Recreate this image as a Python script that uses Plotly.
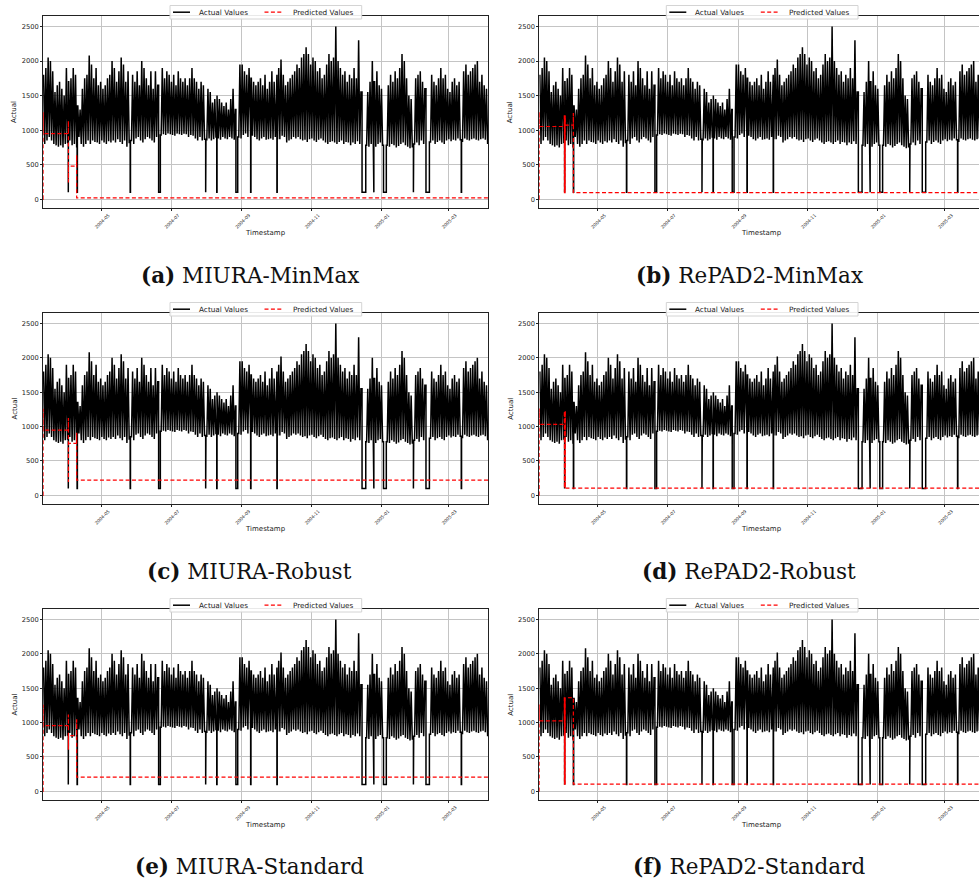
import pandas as pd
import plotly.graph_objects as go

# ---------------- data ----------------
series_start = "2004-03-10 18:00"
series_end = "2005-04-04 14:00"

# actual series: peak and trough of every 2-day block
actual_peaks = [
    1800, 1900, 2050, 2000, 1850, 1550, 1650, 1700, 1600, 1500,
    1900, 1700, 1750, 1900, 1800, 1350, 1300, 1600, 1750, 1800,
    2080, 1950, 1750, 1900, 1650, 1700, 1600, 1650, 1750, 1800,
    2000, 1900, 1700, 1850, 2050, 1950, 1700, 1850, 2070, 1800,
    1700, 1850, 1650, 2000, 1900, 1750, 1650, 1850, 1600, 1850,
    1650, 1750, 1900, 1750, 1850, 1800, 1700, 1800, 1650, 1850,
    1750, 1700, 1750, 1650, 1750, 1900, 1750, 1700, 1600, 1700,
    1650, 1500, 1600, 1550, 1400, 1450, 1500, 1450, 1400, 1350,
    1400, 1300, 1450, 1600, 1300, 1850, 1950, 1950, 1850, 1800,
    1900, 1750, 1700, 1650, 1700, 1750, 1650, 1800, 1600, 1700,
    1850, 1700, 1800, 1900, 2020, 1800, 1650, 1700, 1750, 1800,
    1850, 1950, 1900, 2050, 2100, 2200, 2100, 1950, 2050, 2000,
    1850, 1900, 1750, 1800, 1950, 2100, 2000, 2050, 2500, 2000,
    1900, 1800, 1850, 1700, 1800, 1750, 1900, 1750, 2300, 1550,
    1600, 1600, 1550, 1700, 2000, 1700, 1850, 1650, 1600, 1500,
    1550, 1650, 1800, 1700, 1850, 1750, 1900, 2100, 2000, 1750,
    1500, 1450, 1700, 1750, 1800, 1850, 1700, 1600, 1450, 1650,
    1800, 1700, 1650, 1750, 1900, 1750, 1800, 1600, 1550, 1700,
    1750, 1650, 1700, 1800, 1850, 1950, 1800, 1850, 1900, 1950,
    2000, 1700, 1800, 1650, 1600,
]
actual_troughs = [
    800, 850, 900, 850, 800, 780, 760, 780, 750, 800,
    820, 850, 780, 800, 760, 900, 800, 760, 800, 850,
    800, 850, 830, 820, 800, 850, 820, 800, 840, 820,
    850, 820, 870, 830, 800, 850, 760, 820, 850, 800,
    880, 900, 850, 820, 870, 900, 880, 850, 820, 900,
    920, 930, 940, 930, 950, 940, 930, 920, 950, 940,
    930, 950, 940, 900, 930, 920, 880, 850, 900, 850,
    870, 860, 880, 850, 870, 900, 880, 860, 900, 880,
    870, 900, 880, 860, 800, 900, 880, 930, 950, 900,
    880, 920, 900, 870, 850, 880, 900, 860, 870, 880,
    860, 900, 880, 870, 920, 900, 820, 850, 870, 900,
    880, 900, 870, 850, 860, 830, 870, 880, 850, 830,
    860, 880, 850, 820, 800, 830, 840, 820, 800, 830,
    850, 800, 830, 820, 780, 820, 800, 840, 800, 850,
    800, 780, 760, 800, 780, 760, 800, 820, 780, 760,
    780, 760, 800, 780, 750, 770, 800, 820, 780, 760,
    740, 760, 800, 820, 780, 850, 800, 820, 800, 830,
    850, 800, 830, 850, 820, 800, 850, 870, 840, 860,
    850, 880, 860, 840, 880, 860, 850, 870, 880, 860,
    850, 870, 880, 860, 800,
]

# periods where the actual series drops to its floor value
gap_starts = ["2004-04-01 22:00", "2004-04-09 15:00", "2004-05-26 03:00", "2004-06-20 01:00",
              "2004-07-31 06:00", "2004-08-09 23:00", "2004-08-26 18:00", "2004-09-08 16:00",
              "2004-10-01 16:00", "2004-12-15 06:00", "2004-12-25 08:00", "2005-01-03 01:00",
              "2005-01-29 06:00", "2005-02-09 06:00", "2005-03-12 04:00"]
gap_ends = ["2004-04-02 03:00", "2004-04-09 21:00", "2004-05-26 09:00", "2004-06-21 13:00",
            "2004-07-31 12:00", "2004-08-10 05:00", "2004-08-28 08:00", "2004-09-08 22:00",
            "2004-10-01 22:00", "2004-12-18 12:00", "2004-12-25 14:00", "2005-01-05 12:00",
            "2005-01-29 12:00", "2005-02-12 06:00", "2005-03-12 10:00"]
gap_value = 100

# predicted series (step values)
pred_times_miura = ["2004-03-10 18:00", "2004-03-10 19:00", "2004-03-10 20:00",
                    "2004-04-01 23:00", "2004-04-02 00:00", "2004-04-02 01:00",
                    "2004-04-09 05:00", "2004-04-09 06:00", series_end]
pred_vals_miura_minmax = [0, 1250, 950, 1130, 250, 480, 640, 20, 20]
pred_vals_miura_robust = [0, 1250, 949, 1117, 202, 756, 900, 222, 222]
pred_vals_miura_standard = [0, 1250, 955, 1110, 613, 811, 1038, 207, 207]

pred_times_repad = ["2004-03-10 18:00", "2004-03-10 19:00", "2004-03-10 20:00",
                    "2004-04-01 16:00", "2004-04-01 19:00", "2004-04-01 22:00",
                    "2004-04-02 01:00", "2004-04-02 04:00", "2004-04-02 07:00",
                    "2004-04-02 10:00", "2004-04-02 13:00", "2004-04-09 13:00",
                    "2004-04-09 14:00", series_end]
pred_vals_repad_minmax = [0, 1265, 1053, 1207, 97, 1207, 97, 1207, 97, 1207, 1072, 1241, 97, 97]
pred_vals_repad_robust = [0, 1252, 1031, 1223, 106, 1223, 106, 1223, 106, 1223, 106, 106, 106, 106]
pred_vals_repad_standard = [0, 1255, 1023, 1361, 106, 1361, 106, 1361, 106, 1361, 1361, 1361, 106, 106]

panel_labels = ["(a)", "(b)", "(c)", "(d)", "(e)", "(f)"]
panel_names = ["MIURA-MinMax", "RePAD2-MinMax", "MIURA-Robust", "RePAD2-Robust",
               "MIURA-Standard", "RePAD2-Standard"]
panel_pred_times = [pred_times_miura, pred_times_repad] * 3
panel_pred_vals = [pred_vals_miura_minmax, pred_vals_repad_minmax,
                   pred_vals_miura_robust, pred_vals_repad_robust,
                   pred_vals_miura_standard, pred_vals_repad_standard]
series_names = ["Actual Values", "Predicted Values"]
series_colors = ["black", "red"]
y_ticks = [0, 500, 1000, 1500, 2000, 2500]

# ---------------- build actual series ----------------
t0 = pd.Timestamp(series_start)
t_end = pd.Timestamp(series_end)
pts = []
for k, (pk, tr) in enumerate(zip(actual_peaks, actual_troughs)):
    pts.append((t0 + pd.Timedelta(days=2 * k + 0.5), 0, pk))
    pts.append((t0 + pd.Timedelta(days=2 * k + 1.5), 0, tr))
for s, e in zip(gap_starts, gap_ends):
    s, e = pd.Timestamp(s), pd.Timestamp(e)
    before = [p for p in pts if p[0] < s]
    after = [p for p in pts if p[0] > e]
    v_prev = before[-1][2] if before else gap_value
    v_next = after[0][2] if after else gap_value
    # vertical drop at the gap start and vertical rise at the gap end
    pts = before + [(s, 0, v_prev), (s, 1, gap_value), (e, 0, gap_value), (e, 1, v_next)] + after
pts.sort(key=lambda p: (p[0], p[1]))
act_x = [p[0] for p in pts]
act_y = [p[2] for p in pts]

# ---------------- layout geometry ----------------
W, H = 979, 884
col_px = [(43, 488), (539.3, 984.3)]
row_px = [(16, 208), (313, 504), (609, 800)]
caption_x = [250, 749]
caption_y = [275, 571, 866]
y_range = [-126, 2651]
TXT = "#222"
DASH = "4px,2.4px"

fig = go.Figure()
annotations = []
shapes = []
span = t_end - t0


def px_x(v):
    return v / W


def px_y(v):
    return 1 - v / H


for i in range(6):
    r, c = divmod(i, 2)
    n = i + 1
    xs = "" if n == 1 else str(n)
    x0p, x1p = col_px[c]
    y0p, y1p = row_px[r]
    dom_x = [px_x(x0p), px_x(min(x1p, W))]
    dom_y = [px_y(y1p), px_y(y0p)]
    frac = (min(x1p, W) - x0p) / (x1p - x0p)
    xr = [t0, t0 + span * frac]

    fig.add_trace(go.Scatter(x=act_x, y=act_y, mode="lines", name=series_names[0],
                             line=dict(color=series_colors[0], width=1.5),
                             xaxis=f"x{xs}", yaxis=f"y{xs}", showlegend=False,
                             hoverinfo="skip"))
    fig.add_trace(go.Scatter(x=panel_pred_times[i], y=panel_pred_vals[i], mode="lines",
                             name=series_names[1], line_shape="hv",
                             line=dict(color=series_colors[1], width=1.2, dash=DASH),
                             xaxis=f"x{xs}", yaxis=f"y{xs}", showlegend=False))

    fig.layout[f"xaxis{xs}"] = dict(
        domain=dom_x, anchor=f"y{xs}", type="date", range=xr,
        tick0="2004-05-01", dtick="M2", tickformat="%Y-%m", tickangle=-45,
        tickfont=dict(family="DejaVu Sans", size=4.5, color=TXT),
        ticks="outside", ticklen=2, tickcolor=TXT, ticklabelshift=7,
        showgrid=True, gridcolor="#c4c4c4", gridwidth=0.8,
        showline=True, linecolor=TXT, linewidth=1, mirror=True, zeroline=False)
    fig.layout[f"yaxis{xs}"] = dict(
        domain=dom_y, anchor=f"x{xs}", range=y_range, tickvals=y_ticks,
        tickfont=dict(family="DejaVu Sans", size=6.7, color=TXT),
        ticks="outside", ticklen=2, tickcolor=TXT,
        showgrid=True, gridcolor="#c4c4c4", gridwidth=0.8,
        showline=True, linecolor=TXT, linewidth=1, mirror=(c == 0), zeroline=False)

    ax_cx = (x0p + x1p) / 2

    # legend box (upper centre, straddling the top spine)
    lg_top, lg_bot = y0p - 10.5, y0p + 3
    lg_mid = y0p - 3.8
    shapes.append(dict(type="rect", xref="paper", yref="paper",
                       x0=px_x(ax_cx - 95.5), x1=px_x(ax_cx + 96.2),
                       y0=px_y(lg_bot), y1=px_y(lg_top),
                       fillcolor="rgba(255,255,255,0.9)", line=dict(color="#d4d4d4", width=1),
                       layer="above"))
    shapes.append(dict(type="line", xref="paper", yref="paper",
                       x0=px_x(ax_cx - 92.5), x1=px_x(ax_cx - 75.5),
                       y0=px_y(lg_mid), y1=px_y(lg_mid),
                       line=dict(color=series_colors[0], width=1.5), layer="above"))
    shapes.append(dict(type="line", xref="paper", yref="paper",
                       x0=px_x(ax_cx - 1), x1=px_x(ax_cx + 17),
                       y0=px_y(lg_mid), y1=px_y(lg_mid),
                       line=dict(color=series_colors[1], width=1.2, dash=DASH), layer="above"))
    for name, off in zip(series_names, [-69, 25]):
        annotations.append(dict(text=name, x=px_x(ax_cx + off), y=px_y(lg_mid),
                                xref="paper", yref="paper", xanchor="left", yanchor="middle",
                                showarrow=False,
                                font=dict(family="DejaVu Sans", size=7.3, color=TXT)))

    annotations.append(dict(text="Actual", x=px_x(x0p - 29), y=px_y((y0p + y1p) / 2),
                            xref="paper", yref="paper", xanchor="center", yanchor="middle",
                            showarrow=False, textangle=-90,
                            font=dict(family="DejaVu Sans", size=7, color=TXT)))
    annotations.append(dict(text="Timestamp", x=px_x(ax_cx), y=px_y(y1p + 25),
                            xref="paper", yref="paper", xanchor="center", yanchor="middle",
                            showarrow=False,
                            font=dict(family="DejaVu Sans", size=7, color=TXT)))
    annotations.append(dict(text=f"<b>{panel_labels[i]}</b> {panel_names[i]}",
                            x=px_x(caption_x[c]), y=px_y(caption_y[r]),
                            xref="paper", yref="paper", xanchor="center", yanchor="middle",
                            showarrow=False,
                            font=dict(family="DejaVu Serif", size=21.5, color="#111")))

fig.update_layout(width=W, height=H, margin=dict(l=0, r=0, t=0, b=0),
                  paper_bgcolor="white", plot_bgcolor="white",
                  annotations=annotations, shapes=shapes, showlegend=False)

fig.write_html("out.html")
